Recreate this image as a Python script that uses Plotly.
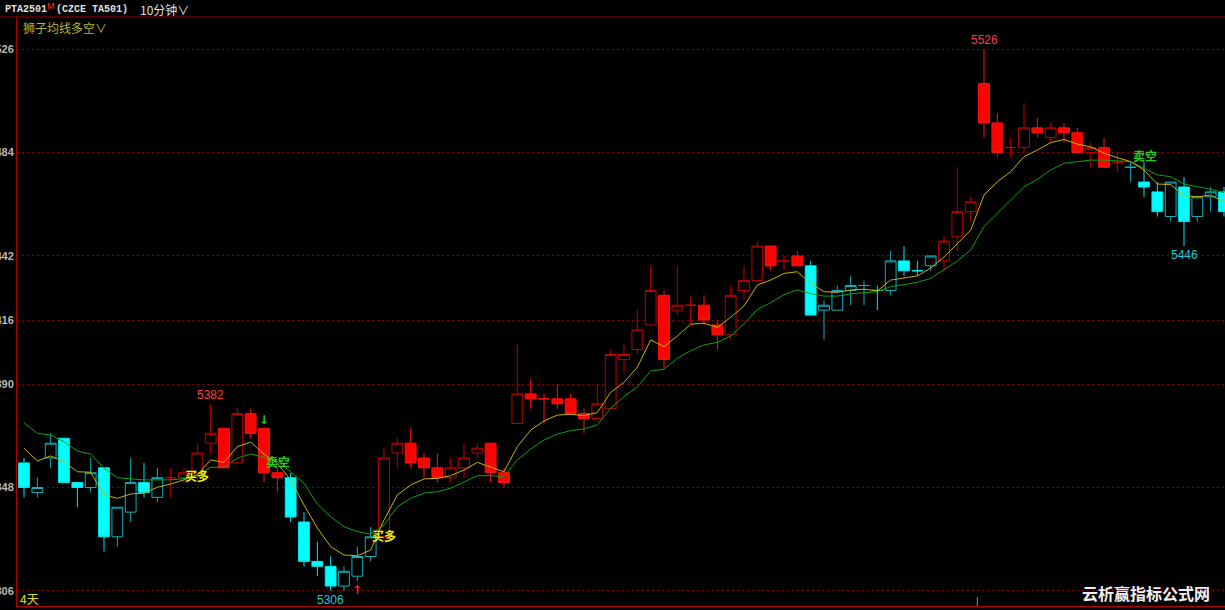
import plotly.graph_objects as go

# ---------------- data (10-minute bars, PTA2501) ----------------
opens  = [5358,5346,5360,5368,5350,5348,5356,5328,5338,5350,
          5344,5352,5352,5354,5366,5372,5358,5378,5372,5354,
          5352,5334,5318,5316,5308,5312,5320,5328,5362,5366,
          5360,5356,5352,5356,5362,5366,5354,5374,5386,5384,
          5384,5384,5378,5376,5380,5400,5404,5414,5426,5420,
          5422,5422,5414,5410,5428,5432,5446,5440,5442,5438,
          5420,5420,5428,5430,5428,5428,5440,5436,5438,5440,
          5450,5460,5512,5496,5486,5486,5494,5490,5494,5492,
          5484,5486,5480,5478,5472,5468,5458,5470,5458,5466,
          5468]
highs  = [5360,5352,5370,5368,5350,5360,5356,5340,5360,5358,
          5356,5356,5356,5366,5382,5372,5380,5380,5372,5356,
          5354,5338,5326,5320,5316,5324,5332,5364,5368,5372,
          5362,5362,5360,5366,5366,5366,5356,5406,5392,5386,
          5390,5386,5380,5390,5404,5406,5420,5438,5428,5438,
          5426,5426,5416,5430,5438,5448,5446,5442,5444,5440,
          5424,5430,5434,5432,5430,5444,5446,5440,5442,5450,
          5478,5466,5526,5500,5490,5504,5498,5496,5496,5494,
          5488,5490,5484,5480,5480,5472,5472,5474,5466,5470,
          5470]
lows   = [5344,5344,5356,5350,5340,5346,5322,5324,5334,5344,
          5342,5344,5350,5350,5362,5356,5358,5368,5350,5346,
          5334,5316,5312,5306,5306,5310,5318,5326,5356,5356,
          5352,5350,5350,5352,5360,5350,5348,5374,5380,5374,
          5380,5378,5370,5376,5380,5394,5402,5414,5396,5418,
          5414,5414,5404,5408,5424,5432,5436,5436,5438,5418,
          5408,5420,5422,5422,5420,5426,5434,5434,5436,5436,
          5444,5456,5490,5482,5482,5484,5490,5488,5488,5484,
          5478,5478,5476,5472,5466,5458,5456,5446,5456,5460,
          5458]
closes = [5348,5348,5366,5350,5348,5354,5328,5340,5350,5346,
          5352,5352,5354,5362,5370,5356,5378,5370,5354,5352,
          5336,5318,5316,5308,5314,5320,5328,5360,5366,5358,
          5356,5352,5356,5360,5364,5354,5350,5386,5384,5384,
          5382,5378,5376,5382,5402,5402,5412,5428,5400,5422,
          5422,5416,5410,5426,5432,5446,5438,5440,5438,5418,
          5422,5428,5430,5430,5428,5440,5436,5436,5442,5448,
          5460,5464,5496,5484,5486,5494,5492,5494,5492,5484,
          5486,5478,5480,5478,5470,5460,5472,5456,5466,5468,
          5460]
# trend state of the lion MA indicator: "r" = long (red), "c" = short (cyan)
trend = list("c" * 11 + "r" * 9 + "c" * 7 + "r" * 32 + "c" * 10 + "r" * 14 + "c" * 8)

ma_fast = [5363.9,5358.8,5360.8,5358.5,5354.4,5354.2,5345.0,5343.6,5345.4,5345.7,
           5348.1,5349.4,5351.1,5353.1,5359.2,5358.2,5364.6,5366.4,5361.6,5357.8,
           5351.1,5340.9,5331.6,5324.0,5320.6,5320.3,5322.6,5334.8,5345.0,5349.0,
           5351.5,5351.7,5352.8,5355.1,5358.2,5356.2,5354.4,5364.6,5371.3,5375.0,
           5377.4,5377.7,5377.2,5378.4,5386.6,5390.7,5396.8,5407.9,5405.2,5409.5,
           5414.3,5414.7,5413.0,5417.1,5421.7,5430.2,5432.2,5434.9,5435.6,5430.9,
           5427.5,5427.2,5428.2,5428.5,5427.8,5432.2,5433.2,5433.9,5437.1,5441.6,
           5447.0,5452.5,5466.7,5472.1,5476.2,5482.3,5485.0,5488.0,5489.3,5487.4,
           5486.3,5483.7,5481.9,5480.3,5476.9,5471.2,5471.0,5466.5,5466.0,5466.7,
           5464.0]
ma_slow = [5374.3,5370.0,5369.3,5366.6,5362.8,5361.6,5355.8,5352.0,5351.5,5351.1,
           5351.1,5351.1,5351.6,5353.1,5356.2,5356.2,5359.9,5361.6,5360.3,5358.5,
           5354.4,5349.7,5341.3,5336.2,5332.1,5330.1,5329.1,5332.8,5340.2,5343.6,
           5345.7,5346.3,5347.7,5350.1,5352.8,5352.8,5352.4,5359.2,5363.6,5367.3,
           5369.7,5371.1,5371.8,5373.4,5380.2,5384.9,5388.9,5395.3,5396.0,5400.5,
           5403.5,5405.9,5406.9,5409.5,5414.4,5420.3,5423.0,5426.3,5428.2,5426.7,
           5425.7,5425.7,5426.6,5427.1,5427.5,5429.5,5430.5,5431.3,5432.9,5436.3,
           5439.9,5444.4,5453.9,5459.3,5464.7,5470.1,5473.1,5476.9,5479.6,5480.3,
           5480.9,5480.9,5480.5,5480.3,5477.6,5474.9,5474.2,5471.2,5470.1,5469.1,
           5467.7]

price_ticks = [5306, 5348, 5390, 5416, 5442, 5484, 5526]

signal_x = [13, 19.05, 27, 84.1]
signal_y = [5352.7, 5358.4, 5328.7, 5482.6]
signal_text = ["买多", "卖空", "买多", "卖空"]

arrow_x = [18, 25]
arrow_y = [5375.5, 5306.4]
arrow_text = ["↓", "↑"]

# ---------------- figure ----------------
W, H = 1225, 610
L, R, T, B = 17, 0, 17, 4
PW, PH = W - L - R, H - T - B

def px(x):
    return (x - L) / PW

def py(y):
    return (H - B - y) / PH

idx = list(range(len(opens)))
fig = go.Figure()

styles = {
    "r": dict(inc_line="#c00000", inc_fill="#000000", dec_line="#ff1010", dec_fill="#ff0000"),
    "c": dict(inc_line="#10b0b8", inc_fill="#000000", dec_line="#00e8f0", dec_fill="#00ffff"),
}
for key, st in styles.items():
    sel = [i for i in idx if trend[i] == key]
    fig.add_trace(go.Candlestick(
        x=sel,
        open=[opens[i] for i in sel],
        high=[highs[i] for i in sel],
        low=[lows[i] for i in sel],
        close=[closes[i] for i in sel],
        increasing=dict(line=dict(color=st["inc_line"], width=1), fillcolor=st["inc_fill"]),
        decreasing=dict(line=dict(color=st["dec_line"], width=1), fillcolor=st["dec_fill"]),
        whiskerwidth=0,
        hoverinfo="skip",
        showlegend=False,
    ))

fig.add_trace(go.Scatter(x=idx, y=ma_slow, mode="lines",
                         line=dict(color="#10a010", width=1), hoverinfo="skip", showlegend=False))
fig.add_trace(go.Scatter(x=idx, y=ma_fast, mode="lines",
                         line=dict(color="#c8b400", width=1), hoverinfo="skip", showlegend=False))

# extreme price labels
def extreme(lo, hi, use_max):
    rng = range(lo, hi)
    if use_max:
        i = max(rng, key=lambda k: highs[k])
        return i, highs[i]
    i = min(rng, key=lambda k: lows[k])
    return i, lows[i]

for lo, hi, use_max in [(0, 20, True), (0, 40, False), (40, 91, True), (80, 91, False)]:
    i, v = extreme(lo, hi, use_max)
    fig.add_annotation(x=i, y=v, text=str(v), showarrow=False,
                       yanchor="bottom" if use_max else "top",
                       font=dict(family="Liberation Sans, Arial", size=12,
                                 color="#ff4040" if use_max else "#20c8d8"))

for x, y, t in zip(signal_x, signal_y, signal_text):
    col = "#f0f000" if t == "买多" else "#20d020"
    fig.add_annotation(x=x, y=y, text="<b>" + t + "</b>", showarrow=False,
                       font=dict(family="Noto Sans CJK SC", size=12, color=col))

for x, y, t in zip(arrow_x, arrow_y, arrow_text):
    col = "#20d020" if t == "↓" else "#ff2020"
    fig.add_annotation(x=x, y=y, text="<b>" + t + "</b>", showarrow=False,
                       font=dict(family="DejaVu Sans", size=12, color=col))

# header texts
hdr_font = dict(family="Liberation Mono, Noto Sans CJK SC", size=10, color="#e0e0e0")
fig.add_annotation(xref="paper", yref="paper", x=px(3), y=py(9), xanchor="left", yanchor="middle",
                   text="<b>PTA2501</b>", showarrow=False, font=hdr_font)
fig.add_annotation(xref="paper", yref="paper", x=px(45), y=py(6), xanchor="left", yanchor="middle",
                   text="M", showarrow=False,
                   font=dict(family="Liberation Sans", size=9, color="#ff3030"))
fig.add_annotation(xref="paper", yref="paper", x=px(54), y=py(9), xanchor="left", yanchor="middle",
                   text="<b>(CZCE TA501)</b>", showarrow=False, font=hdr_font)
fig.add_annotation(xref="paper", yref="paper", x=px(138), y=py(9), xanchor="left", yanchor="middle",
                   text="10分钟∨", showarrow=False,
                   font=dict(family="Noto Sans CJK SC", size=12, color="#e0e0e0"))
fig.add_annotation(xref="paper", yref="paper", x=px(21), y=py(27), xanchor="left", yanchor="middle",
                   text="狮子均线多空∨", showarrow=False,
                   font=dict(family="Noto Sans CJK SC", size=12, color="#b8b828"))
fig.add_annotation(xref="paper", yref="paper", x=px(18), y=py(598), xanchor="left", yanchor="middle",
                   text="4天", showarrow=False,
                   font=dict(family="Noto Sans CJK SC", size=12, color="#e0e000"))
fig.add_annotation(xref="paper", yref="paper", x=px(1146), y=py(593), xanchor="center", yanchor="middle",
                   text="<b>云析赢指标公式网</b>", showarrow=False,
                   font=dict(family="Noto Sans CJK SC", size=16, color="#f0f0f0"))

# header separator and day separator tick
fig.add_shape(type="line", xref="paper", yref="paper", x0=px(0), x1=px(W), y0=1, y1=1,
              line=dict(color="#a00000", width=1))
fig.add_shape(type="line", xref="x", yref="paper", x0=71.5, x1=71.5, y0=0, y1=py(597),
              line=dict(color="#909090", width=1))

fig.update_layout(
    width=W, height=H,
    autosize=False,
    margin=dict(l=L, r=R, t=T, b=B, pad=0, autoexpand=False),
    paper_bgcolor="#000000", plot_bgcolor="#000000",
    boxgap=0.1, boxgroupgap=0.1,
    showlegend=False,
    hovermode=False,
    xaxis=dict(range=[-0.525, 90.075], showgrid=False, zeroline=False, showticklabels=False,
               showline=True, linecolor="#b00000", linewidth=1, ticks="", automargin=False,
               rangeslider=dict(visible=False), fixedrange=True),
    yaxis=dict(range=[5299.9, 5539.0], tickvals=price_ticks, ticktext=[str(v) for v in price_ticks],
               showgrid=True, gridcolor="#8a0000", griddash="2px,3px", gridwidth=1,
               zeroline=False, showline=True, linecolor="#b00000", linewidth=1, ticks="",
               ticklabelstandoff=0, automargin=False,
               tickfont=dict(family="Liberation Sans, Arial", size=11, color="#b8b8b8", weight="bold"),
               fixedrange=True),
)

fig.write_html(
    "out.html",
    config={"displayModeBar": False},
    post_script="document.body.style.margin='0';document.body.style.background='#000';"
                "document.documentElement.style.overflow='hidden';",
)
